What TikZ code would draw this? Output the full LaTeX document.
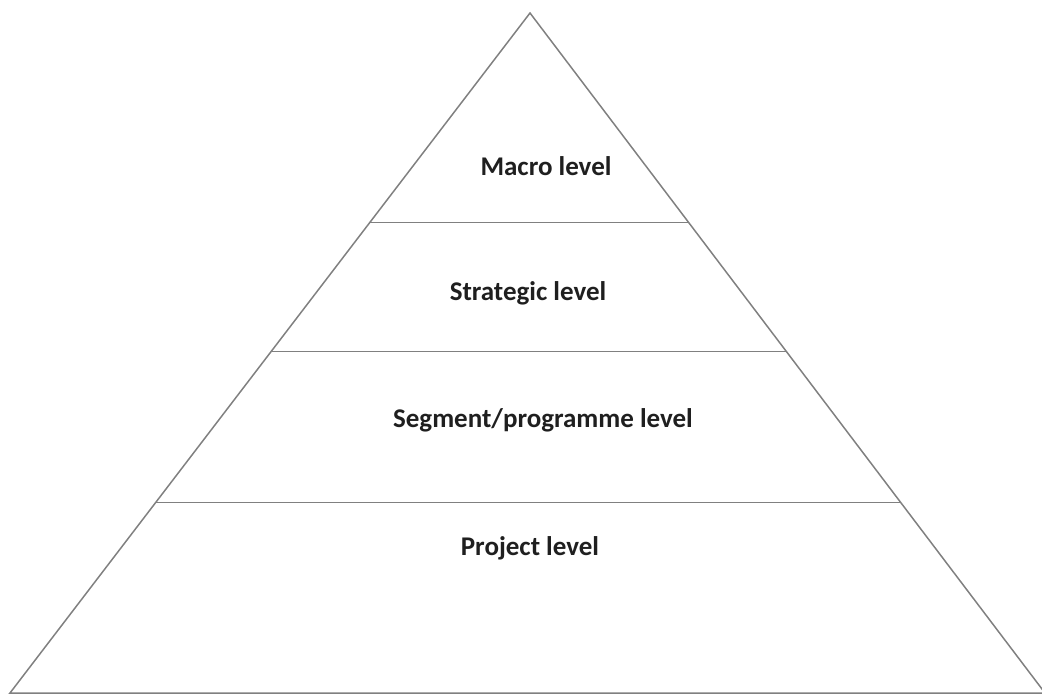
\documentclass[tikz,border=0pt]{standalone}
\usepackage{fontspec}
\setmainfont{Carlito}
\usepackage{tikz}
\usetikzlibrary{calc,positioning}

\begin{document}
\begin{tikzpicture}[x=1pt, y=-1pt]
\tikzstyle{side}=[draw=black!50, line width=1.5pt, line join=miter]
\tikzstyle{lvl}=[inner sep=1pt, text=black!88, font=\fontsize{27}{32}\selectfont\bfseries]
\useasboundingbox (0,0) rectangle (1042,695);
\coordinate (T) at (530,13);
\coordinate (L) at (10,693);
\coordinate (R) at (1045,693);
\draw[side] (L) -- (T) -- (R) -- cycle;
% dividing lines between the levels
\foreach \t in {0.308, 0.498, 0.720}{\draw[side] ($(T)!\t!(L)$) -- ($(T)!\t!(R)$);}
\node[lvl] (macro) at (546,166) {Macro level};
\node[lvl] (strategic) at (528,293) {Strategic level};
\node[lvl] (segment) at (543,420) {Segment/programme level};
\node[lvl] (project) at (530,548) {Project level};
\end{tikzpicture}
\end{document}
